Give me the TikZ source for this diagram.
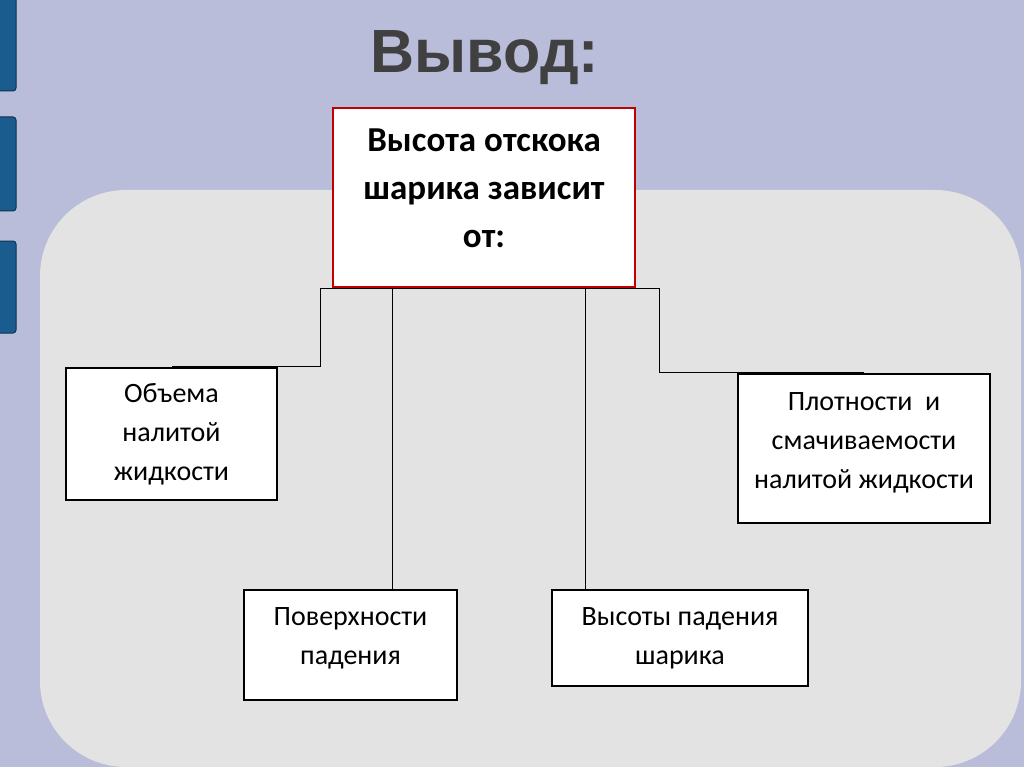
\documentclass[tikz,border=0pt]{standalone}
\usepackage{fontspec}
\setmainfont{Carlito}
\newfontfamily\titlefont{Liberation Sans}
\usetikzlibrary{positioning}
\pgfdeclarelayer{back}
\pgfdeclarelayer{wires}
\pgfsetlayers{back,wires,main}
\definecolor{slide}{RGB}{185,189,218}
\definecolor{panel}{RGB}{227,227,227}
\definecolor{tabblue}{RGB}{27,92,142}
\definecolor{tabedge}{RGB}{15,50,80}
\definecolor{titlegrey}{RGB}{64,64,64}
\definecolor{boxred}{RGB}{192,0,0}
\begin{document}
\begin{tikzpicture}[x=1pt,y=-1pt]
\useasboundingbox (0,0) rectangle (1024,767);
\begin{pgfonlayer}{back}
    \fill[slide] (0,0) rectangle (1024,767);
    \fill[panel, rounded corners=86pt] (40,190) rectangle (1021,767);
    \foreach \ya/\yb in {-10/91, 117/211, 241/333}
        \draw[fill=tabblue, draw=tabedge, line width=1pt, rounded corners=3pt] (-10,\ya) rectangle (16,\yb);
\end{pgfonlayer}
\node[font=\titlefont\bfseries\fontsize{61}{70}\selectfont, text=titlegrey] (title) at (485,58) {Вывод:};
\begin{scope}[every node/.style={draw, line width=2.5pt, fill=white, align=center, inner sep=0pt, font=\fontsize{28}{39}\selectfont}]
    \node[draw=boxred, minimum width=302pt, minimum height=179pt, text depth=18pt, font=\bfseries\fontsize{35}{48}\selectfont] (main) at (484,197.5) {Высота отскока\\шарика зависит\\от:};
    \node[minimum width=211pt, minimum height=132pt] (vol) at (171.5,434) {Объема\\налитой\\жидкости};
    \node[minimum width=252pt, minimum height=149pt, text depth=16pt] (dens) at (864,448.5) {Плотности\ \ и\\смачиваемости\\налитой жидкости};
    \node[minimum width=213pt, minimum height=110pt, text depth=18pt] (surf) at (350.5,645) {Поверхности\\падения};
    \node[minimum width=256pt, minimum height=96pt] (drop) at (680,638) {Высоты падения\\шарика};
\end{scope}
\begin{pgfonlayer}{wires}
\begin{scope}[line width=0.9pt]
    \coordinate (jl) at (320,286);
    \coordinate (jr) at (659,286);
    \coordinate (jc1) at (392,286);
    \coordinate (jc2) at (585,286);
    \draw (jl |- main.south) -- (jr |- main.south);
    \draw (jl |- main.south) -- (jl |- vol.north) -- (vol.north);
    \draw (jr |- main.south) -- (jr |- dens.north) -- (dens.north);
    \draw (jc1 |- main.south) -- (jc1 |- surf.north);
    \draw (jc2 |- main.south) -- (jc2 |- drop.north);
\end{scope}
\end{pgfonlayer}
\end{tikzpicture}
\end{document}
